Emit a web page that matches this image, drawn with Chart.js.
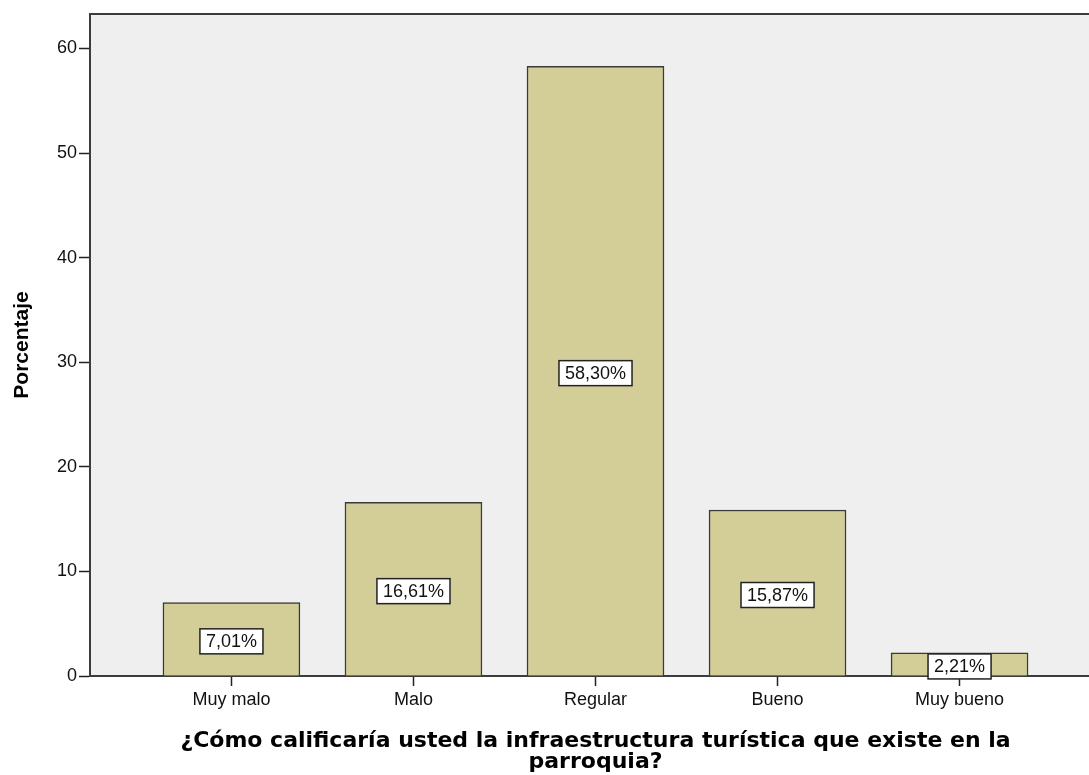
<!DOCTYPE html>
<html>
<head>
<meta charset="utf-8">
<script src="https://cdn.jsdelivr.net/npm/chart.js@4.4.0/dist/chart.umd.min.js"></script>
<style>
  html, body { margin: 0; padding: 0; background: #fff; overflow: hidden; }
  #wrap { width: 1101px; height: 775px; position: relative; }
</style>
</head>
<body>
<div id="wrap"><canvas id="grafico"></canvas></div>
<script>
// datos
const categorias = ['Muy malo', 'Malo', 'Regular', 'Bueno', 'Muy bueno'];
const porcentajes = [7.01, 16.61, 58.30, 15.87, 2.21];
const yTicks = [0, 10, 20, 30, 40, 50, 60];
const tituloX = ['¿Cómo calificaría usted la infraestructura turística que existe en la', 'parroquia?'];
const tituloY = 'Porcentaje';

const fuente = "'Liberation Sans', Arial, sans-serif";

// fondo gris y borde superior del area
const fondoPlugin = {
    id: 'fondo',
    beforeDraw(chart) {
        const { ctx, chartArea } = chart;
        ctx.save();
        ctx.fillStyle = '#efefef';
        ctx.fillRect(chartArea.left, chartArea.top, chartArea.right - chartArea.left, chartArea.bottom - chartArea.top);
        ctx.strokeStyle = '#3c3c3c';
        ctx.lineWidth = 2;
        ctx.beginPath();
        ctx.moveTo(chartArea.left, chartArea.top);
        ctx.lineTo(chartArea.right, chartArea.top);
        ctx.stroke();
        ctx.restore();
    }
};

// etiquetas con caja blanca en el centro de cada barra
const etiquetasPlugin = {
    id: 'etiquetas',
    afterDatasetsDraw(chart) {
        const { ctx } = chart;
        const meta = chart.getDatasetMeta(0);
        const yScale = chart.scales.y;
        ctx.save();
        ctx.font = '18px ' + fuente;
        ctx.textAlign = 'center';
        ctx.textBaseline = 'middle';
        meta.data.forEach((bar, i) => {
            const v = porcentajes[i];
            const txt = v.toFixed(2).replace('.', ',') + '%';
            const y = yScale.getPixelForValue(v / 2) + 2;
            const w = ctx.measureText(txt).width + 12;
            const h = 25;
            ctx.fillStyle = '#ffffff';
            ctx.fillRect(bar.x - w / 2, y - h / 2, w, h);
            ctx.strokeStyle = '#222';
            ctx.lineWidth = 1.5;
            ctx.strokeRect(bar.x - w / 2, y - h / 2, w, h);
            ctx.fillStyle = '#111';
            ctx.fillText(txt, bar.x, y + 1);
        });
        ctx.restore();
    }
};

const ctx = document.getElementById('grafico').getContext('2d');
const grafico = new Chart(ctx, {
    type: 'bar',
    data: {
        datasets: [{
            data: categorias.map((c, i) => ({ x: i, y: porcentajes[i] })),
            backgroundColor: '#d3ce98',
            borderColor: '#3a3a3a',
            borderWidth: 1.5,
            barThickness: 137
        }]
    },
    options: {
        responsive: true,
        maintainAspectRatio: false,
        animation: false,
        layout: { padding: { top: 14, right: 0, left: 0, bottom: 0 } },
        plugins: {
            legend: { display: false },
            tooltip: { enabled: false }
        },
        scales: {
            x: {
                type: 'linear',
                offset: false,
                min: -0.777,
                max: 4.777,
                afterBuildTicks(scale) {
                    scale.ticks = categorias.map((c, i) => ({ value: i }));
                },
                afterFit(scale) { scale.height = 99; },
                ticks: {
                    color: '#111',
                    font: { family: fuente, size: 18 },
                    padding: 3,
                    maxRotation: 0,
                    autoSkip: false,
                    callback: (v) => categorias[v]
                },
                grid: { offset: false, drawOnChartArea: false, tickLength: 10, color: '#222', tickWidth: 1.5 },
                border: { display: true, color: '#3c3c3c', width: 2 },
                title: {
                    display: true,
                    text: tituloX,
                    color: '#000',
                    font: { family: "'DejaVu Sans', sans-serif", size: 22, weight: 'bold', lineHeight: 0.95 },
                    padding: { top: 10, bottom: 2 }
                }
            },
            y: {
                min: 0,
                max: 63.3,
                afterBuildTicks(scale) {
                    scale.ticks = yTicks.map(v => ({ value: v }));
                },
                afterFit(scale) { scale.width = 90; },
                ticks: {
                    color: '#111',
                    font: { family: fuente, size: 18 },
                    padding: 2
                },
                grid: { drawOnChartArea: false, tickLength: 11, color: '#222', tickWidth: 1.5 },
                border: { display: true, color: '#3c3c3c', width: 2 },
                title: {
                    display: true,
                    text: tituloY,
                    color: '#000',
                    font: { family: fuente, size: 21, weight: 'bold' },
                    padding: { top: 10, bottom: 0 }
                }
            }
        }
    },
    plugins: [fondoPlugin, etiquetasPlugin]
});
</script>
</body>
</html>
